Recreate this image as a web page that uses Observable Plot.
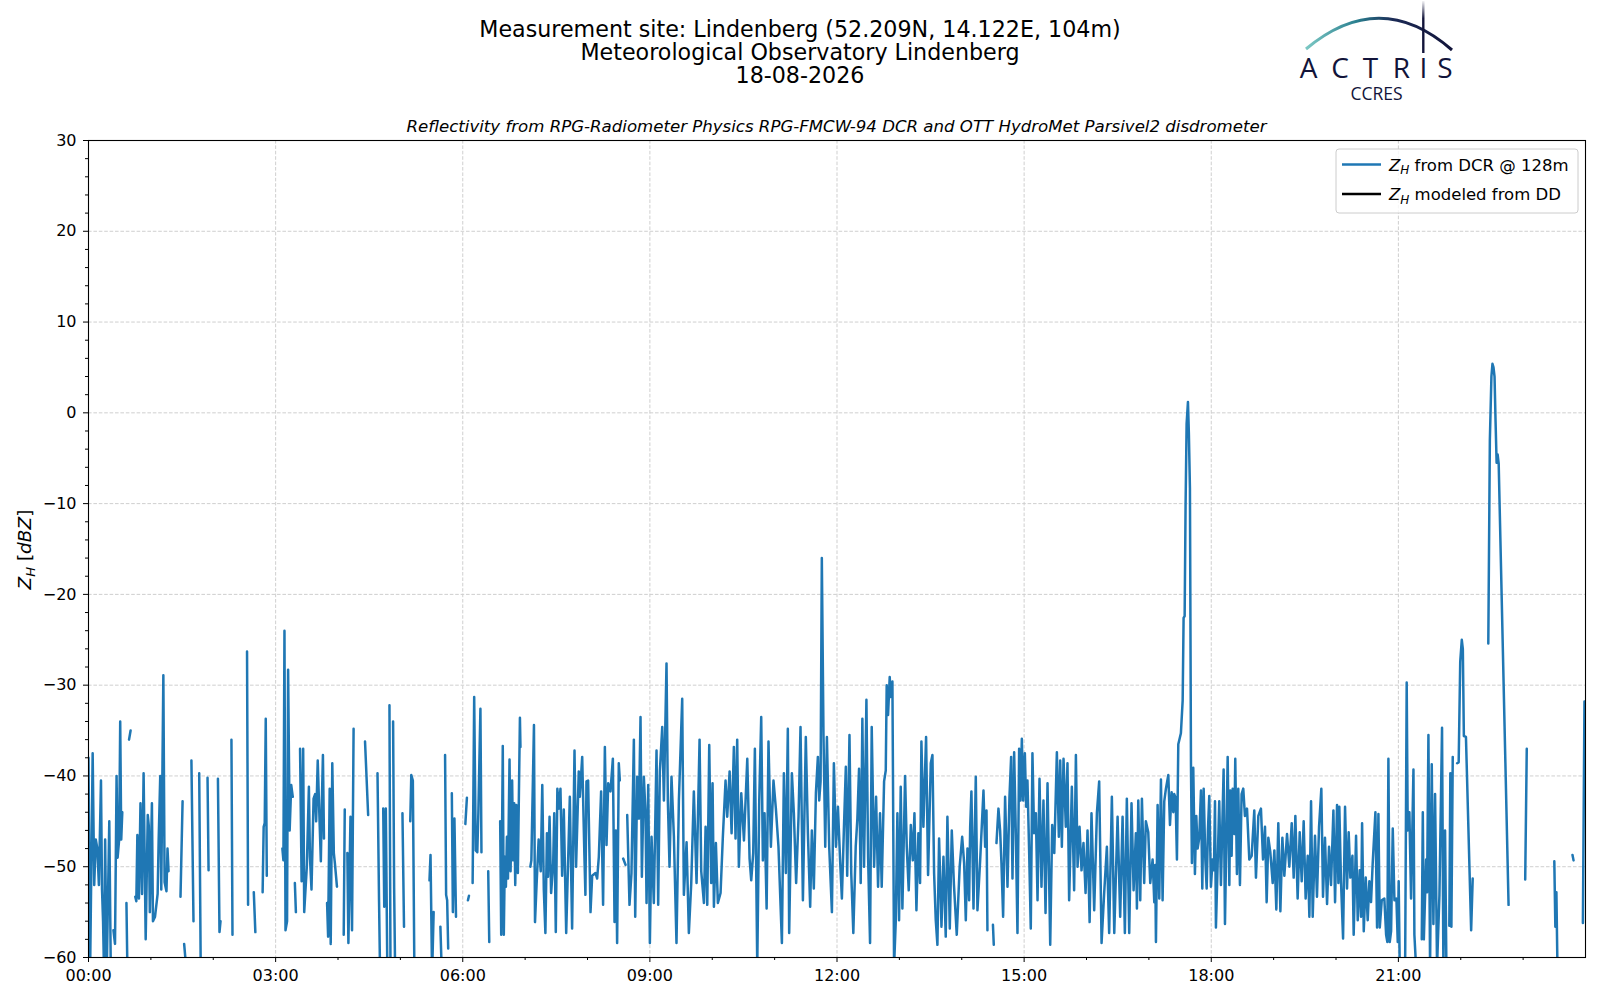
<!DOCTYPE html>
<html><head><meta charset="utf-8">
<script src="https://cdn.jsdelivr.net/npm/d3@7"></script>
<script src="https://cdn.jsdelivr.net/npm/@observablehq/plot@0.6"></script>
<style>
body{margin:0;background:#fff;font-family:"DejaVu Sans",sans-serif;}
#wrap{position:relative;width:1600px;height:1000px;overflow:hidden;background:#fff;}
#chart{position:absolute;left:0;top:0;}
#overlay{position:absolute;left:0;top:0;pointer-events:none;}
</style></head>
<body>
<div id="wrap"><div id="chart"></div>
<svg id="overlay" width="1600" height="1000" font-family="DejaVu Sans, sans-serif">
  <defs>
    <linearGradient id="arcGrad" x1="1306" y1="0" x2="1452" y2="0" gradientUnits="userSpaceOnUse">
      <stop offset="0" stop-color="#7cc8c4"/>
      <stop offset="0.35" stop-color="#2a7f8f"/>
      <stop offset="0.6" stop-color="#1b2a55"/>
      <stop offset="1" stop-color="#12143a"/>
    </linearGradient>
    <linearGradient id="vGrad" x1="0" y1="0" x2="0" y2="53" gradientUnits="userSpaceOnUse">
      <stop offset="0" stop-color="#ffffff"/>
      <stop offset="0.35" stop-color="#12143a"/>
      <stop offset="1" stop-color="#12143a"/>
    </linearGradient>
  </defs>
  <text text-anchor="middle" font-size="22.2"><tspan x="800" y="37">Measurement site: Lindenberg (52.209N, 14.122E, 104m)</tspan><tspan x="800" y="59.5">Meteorological Observatory Lindenberg</tspan><tspan x="800" y="82.5">18-08-2026</tspan></text>
  <text x="836.5" y="132" text-anchor="middle" font-size="16.6" font-style="italic">Reflectivity from RPG-Radiometer Physics RPG-FMCW-94 DCR and OTT HydroMet Parsivel2 disdrometer</text>
  <!-- logo -->
  <path d="M1306,49 Q1380,-13 1452,50" fill="none" stroke="url(#arcGrad)" stroke-width="3"/>
  <path d="M1423.3,1 L1423.3,53" stroke="url(#vGrad)" stroke-width="2.4"/>
  <text font-family="Open Sans, sans-serif" fill="#12143a" text-anchor="middle"><tspan font-size="28" font-weight="500" x="1308.5" y="77.8">A</tspan><tspan font-size="28" font-weight="500" x="1340" y="77.8">C</tspan><tspan font-size="28" font-weight="500" x="1370.5" y="77.8">T</tspan><tspan font-size="28" font-weight="500" x="1401.5" y="77.8">R</tspan><tspan font-size="28" font-weight="500" x="1423.3" y="77.8">I</tspan><tspan font-size="28" font-weight="500" x="1445" y="77.8">S</tspan><tspan font-size="17.5" x="1376.5" y="99.5">CCRES</tspan></text>
  <!-- y label -->
  <text transform="translate(31,549.5) rotate(-90)" text-anchor="middle" font-size="18.5"><tspan font-style="italic">Z</tspan><tspan font-style="italic" font-size="13" dy="4">H</tspan><tspan dy="-4"> [</tspan><tspan font-style="italic">dBZ</tspan><tspan>]</tspan></text>
  <!-- legend -->
  <rect x="1336" y="149" width="242" height="64" rx="3" fill="#fff" fill-opacity="0.8" stroke="#cccccc" stroke-width="1"/>
  <line x1="1342" y1="164.5" x2="1381" y2="164.5" stroke="#1f77b4" stroke-width="2.4"/>
  <line x1="1342" y1="194" x2="1381" y2="194" stroke="#000" stroke-width="2.4"/>
  <text x="1389" y="170.5" font-size="16.5"><tspan font-style="italic">Z</tspan><tspan font-style="italic" font-size="12" dy="3.5">H</tspan><tspan dy="-3.5"> from DCR @ 128m</tspan></text>
  <text x="1389" y="200" font-size="16.5"><tspan font-style="italic">Z</tspan><tspan font-style="italic" font-size="12" dy="3.5">H</tspan><tspan dy="-3.5"> modeled from DD</tspan></text>
</svg>
</div>
<script>
// ---- data: [minute of day, Z_H dBZ]; null marks a gap ----
const h00 = [[0,-38],[1.5,-62],[4,-37.5],[5.5,-52],[7,-47],[8.5,-48],[10,-52],[12,-40.5],[13,-52.5],[14,-56],[15,-62],[16,-47],[17.5,-62],[20,-45],[21.5,-62],[22.5,null],
[24,-57],[25.5,-58.5],[27,-40],[28,-49],[29.5,-47],[30.5,-34],[31.5,-47],[32.5,-44],[33,null],
[36.5,-54],[37.5,-62],[38,null],[39,-36],[40.5,-35],[41,null],
[45,-53.3],[46,-53.8],[47,-46.5],[48.5,-53.5],[50,-43],[51.5,-53],[53,-39.7],[55,-58],[57,-44.3],[58,-45.5],[59,-55],[61,-43],[62,-56],[64,-55.5],[66.5,-53],[67.5,-47],[69,-40],[70,-52.5],[72,-28.9],[73.2,-51.7],[75,-52.7],[76,-48],[77,-50.5],[78,null],
[88.5,-53.3],[90.5,-42.8],[91,null],[92,-58.5],[93.5,-60.5],[94,null],
[99,-38.3],[101,-56],[101.5,null],[106.5,-39.7],[108,-62],[108.5,null],
[114.5,-40.2],[115.5,-50.4],[116,null],[124.5,-40.3],[126,-57.2],[127,-56],[127.5,null],
[137.5,-36],[138.5,-57.5],[139,null],[152.5,-26.3],[153.5,-54.2],[154,null],
[159,-52.8],[160.5,-57.2],[161,null],
[167.5,-52.8],[168.5,-45.6],[169.5,-45.2],[170.5,-33.7],[171.5,-51],[172,null]];

const h03 = [[186.5,-48],[187.5,-49.3],[188.5,-24],[189.5,-57],[191,-56],[192,-28.3],[193.5,-46],[195,-41],[196.5,-42.3],[197,null],
[198.5,-51.8],[199.5,-55],[200,null],
[203.5,-37],[205,-51.6],[206.5,-37],[207.5,-55],[210,-50],[212,-41.2],[213,-48.9],[214.5,-52.5],[216.5,-42.5],[218,-42],[219,-45],[220.5,-38.3],[222,-44],[223.5,-49.4],[224.5,-42.7],[225.5,-37.7],[226.5,-46.9],[227,null],
[229.5,-54],[230.5,-57.7],[232,-41.4],[233,-58.5],[234.5,-38.6],[236,-48.5],[237,-49.6],[239,-52.2],[239.5,null],
[245.5,-57.5],[246.5,-43.7],[247,null],
[249,-48.5],[250,-58.4],[252,-44.5],[253.5,-57],[255,-34.8],[255.5,null],
[266,-36.2],[269,-44.3],[269.5,null],
[278,-39.7],[279.5,-53.9],[280.5,-62],[281,null],
[283.5,-43.6],[284.5,-54.4],[286,-43.6],[287.5,-62],[288,null],
[289.5,-32.2],[290.5,-62],[291,null],
[293,-34],[294,-52.4],[295,-62],[295.5,null],
[302,-44.1],[303.5,-56.6],[304,null],
[309.5,-45],[310.5,-39.9],[312,-40.5],[313.5,-62],[314,null],
[328,-51.5],[329,-48.7],[330.5,-62],[332,-55],[332.5,null],
[338.5,-56.6],[339.5,-60.5],[340,null],
[343,-37.7],[344,-53.1],[345,-53.7],[346,-59],[346.5,null],
[349.5,-41.9],[350.5,-55],[352,-44.7],[353.5,-55.5],[354,null]];

const h06 = [[362.5,-45.3],[364,-42.4],[364.5,null],
[365,-53.7],[366,-53.2],[366.5,null],
[369.5,-51.8],[371,-31.3],[372.5,-48.2],[374,-48.4],[375,-44.1],[377,-32.6],[378,-48.4],[378.5,null],
[384.5,-50.5],[385.5,-58.3],[386,null],
[396,-45],[397,-57.5],[398.5,-36.7],[399.5,-57.5],[400.5,-48.9],[401.5,-52.2],[402.5,-46.7],[403.5,-51.3],[405,-38.2],[406,-50.5],[407.5,-40.5],[408.5,-49.3],[409.5,-43],[410.5,-52],[411.5,-43.2],[413,-50.7],[415,-33.6],[415.5,-36.8],[416,null],
[425,-50],[426,-49.3],[428.5,-34.4],[429.5,-56.1],[431,-52],[433,-47],[435,-50.5],[436.5,-41],[438,-52.6],[439.5,-57.3],[441,-46.3],[442,-51.1],[443.5,-44.5],[445,-52.9],[447,-49.6],[448,-44.1],[449.5,-57.2],[451,-41.4],[452.5,-43.6],
[454,-41.4],[455.6,-51],[457.2,-43.7],[459.5,-57.3],[463,-42.3],[465.2,-56.8],[466.8,-43],[467.5,-37.2],[469,-50],[471.6,-39.5],[472.6,-42.3],[474.9,-37.9],[477,-48.7],[478,-53.1],[479,-40.6],[480.6,-40.5],[482.9,-55],[484.5,-51],[487.7,-50.7],[489.3,-51.3],[490.9,-48.9],[493.1,-41.7],[495,-54.2],[496.7,-36.8],[498.3,-47.6],[499.9,-40.8],[502.1,-41.7],[504.4,-38.1],[506,-56.1],[507.3,-46],[508.5,-58.4],[510.1,-38.6],[511.1,-40.5],[511.5,null],
[514.3,-49.1],[516.6,-49.8],[517,null],
[518.2,-44.3],[520.4,-54.2],[522.3,-50.7],[524.6,-36],[525.9,-55.5],[527.8,-40.1],[529.4,-44.7],[531,-33.5],[532.3,-51.1],[534.2,-40.1],[535.8,-44.1],[536.8,-54],[538.4,-41]];

const h09 = [[540,-58.4],[541.6,-46.7],[543.8,-54],[546.4,-37.2],[548,-54.2],[549.6,-39.5],[551.9,-34.6],[553.5,-42.7],[556,-27.6],[557.3,-42.8],[558.9,-50],[560.8,-40.1],[563.1,-46.7],[565.6,-58.4],[567.9,-42.7],[571.1,-31.5],[572.7,-53.1],[575.3,-47.3],[577.5,-57.3],[579.8,-51.8],[582.3,-41.7],[584.9,-51.8],[587.8,-36],[589.4,-50.5],[592,-54],[593.6,-45.6],[595.2,-54.2],[597.1,-36.6],[599,-51.8],[600.3,-40.8],[601.6,-54.4],[603.5,-47.4],[605.4,-54],[608,-52.9],[610.2,-46.7],[612.8,-40.5],[614.4,-44.5],[616.7,-39.5],[618.6,-46.3],[620.8,-36.8],[622.4,-46.9],[624,-36],[625.6,-50],[627.9,-41.9],[630.5,-47.1],[633.7,-38.1],[635.9,-49.1],[637.5,-51.5],[639.4,-48.5],[641,-37],[643.3,-61],[645.2,-42.7],[647.1,-33.5],[648.7,-49.3],[650.3,-44.1],[652.3,-54.6],[654.1,-36.2],[656.4,-47.8],[658.9,-40.5],[661.2,-43.6],[663.7,-47.8],[667,-58.4],[668.9,-39.7],[670.8,-50.7],[672.7,-34.8],[674,-57.3],[676.6,-39.7],[678.5,-44.1],[680.7,-51.8],[683,-44.5],[684.9,-34.6],[687.2,-53.7],[690,-35.7],[692,-46.3],[694.2,-54.4],[695.8,-46],[697.7,-52.4],[699.7,-41.9],[701.6,-37.9],[702.9,-42.7],[704.2,-40.6],[705.4,-16],[707,-35.5],[708.7,-47.8],[710.3,-35.7],[712.5,-47.8],[715.1,-55],[717,-38.6],[719,-47.8]];

const h12 = [[720.9,-43.4],[723.1,-49.6],[724.7,-53.5],[726.6,-46],[728.5,-39],[729.8,-51],[732,-35.5],[733.7,-50.7],[735.7,-57.3],[738,-47.8],[739.6,-44.7],[741.2,-39.2],[742.8,-51.8],[744.4,-33.7],[746,-50],[748.3,-31.6],[749.9,-48.9],[751.8,-58.4],[753.4,-34.6],[755.7,-50],[757.6,-42.3],[759.5,-52.2],[761.4,-44.1],[763,-52.2],[765.3,-40.6],[766.9,-39.4],[767.8,-30],[769.1,-33.3],[770.7,-29.1],[771.7,-31.3],[773.3,-29.6],[774.9,-61],[776.5,-56.1],[778.1,-44.1],[779.7,-55.9],[781.3,-41.2],[782.9,-54.6],[785.5,-40],[787.1,-47.8],[789,-52.6],[791,-45.4],[792.9,-49.3],[794.5,-44.1],[796.4,-54.8],[798.3,-46.3],[799.9,-51.8],[801.2,-36.2],[803.1,-45.6],[805.7,-35.7],[807.6,-50.9],[810.2,-38.6],[811.8,-37.7],[813.4,-50.7],[815,-55.9],[816.6,-58.6],[818.2,-46.9],[820.5,-56.6],[822.4,-48.9],[824.6,-57.7],[826.2,-44.5],[828.5,-56.8],[830.4,-46],[832.5,-52],[835.2,-57.5],[838,-50],[840.4,-46.7],[842.3,-49.6],[843.9,-55.9],[845.5,-48],[847.1,-53.7],[848.1,-45.6],[849.3,-41.7],[851.3,-54.6],[853.5,-40.1],[855.1,-54.8],[857.7,-49.3],[860.9,-41.6],[862.5,-47.8],[863.8,-43.8],[864.7,-57],[865.2,null],
[870,-56.4],[870.8,-58.6],[871.2,null],
[873.4,-47.4],[875.3,-43.6],[876.9,-46],[878.2,-49.6],[879.8,-55.5],[881.7,-42.3],[884,-52.2],[885.9,-42.3],[887.5,-37.9],[888.8,-51.3],[890.4,-37.4],[892,-46.3],[893.6,-57.3],[895.2,-37],[896.5,-42.7],[897.8,-35.9],[899.1,-42.7]];

const h15 = [[900.7,-37.5],[902,-43.4],[903.2,-40.5],[904.8,-48.2],[906.4,-56.8],[908,-37.5],[909.6,-46.3],[911.3,-44.1],[912.9,-53.7],[914.8,-40.3],[916.7,-52.2],[918.6,-42.7],[920.6,-55.1],[922.5,-40.8],[925.1,-58.6],[927,-45.4],[929,-48.5],[931.5,-37.4],[933.4,-46.7],[934.7,-38.3],[936.3,-47.8],[937.9,-38.1],[940.1,-45.6],[941.7,-38.6],[943.3,-53.7],[945.9,-41.2],[948.1,-52.6],[949.8,-37.7],[951.4,-50],[953.3,-45.6],[955.2,-50.4],[957.1,-47.4],[959.1,-52.9],[961,-46],[963,-56.1],[964.8,-44.1],[967.4,-54.8],[970,-44.1],[972.2,-40.6],[974.5,-58.4],[977,-52.9],[979.6,-47.8],[981.8,-57.3],[984.4,-42.3],[986.7,-57.3],[989.9,-44.5],[992.4,-55.5],[994.7,-44.5],[996.9,-57.3],[998.8,-42.5],[1001.1,-57.3],[1003.3,-43],[1005.3,-52.6],[1007.5,-46.3],[1008.5,-54.6],[1009.8,-42.7],[1011.7,-53.7],[1013.3,-42.5],[1015.5,-51.8],[1017.1,-45],[1019.4,-46.2],[1021.3,-51.8],[1023.6,-49.2],[1025.2,-53.9],[1026.1,-49.8],[1026.8,-58.3],[1028.4,-43.2],[1030,-53.5],[1031.6,-40.4],[1033.2,-53.7],[1034.8,-42.8],[1036.4,-41.4],[1038.7,-39.9],[1040.3,-45.4],[1041.9,-41.8],[1043.5,-44],[1044.4,-42],[1045.7,-42.4],[1047,-49.2],[1048.3,-36.5],[1050.8,-35.3],[1052.5,-31.7],[1053.4,-22.6],[1054.4,-22.4],[1055.3,-10.3],[1056.3,-1.2],[1057.6,1.2],[1058.5,-2.4],[1059.5,-8.3],[1060.5,-38.9],[1061.4,-49.6],[1062.7,-39.1],[1064.3,-50.8],[1065.6,-44.4],[1066.9,-48],[1068.5,-46.8],[1070.1,-41.6],[1071.4,-52.4],[1072.7,-41.4],[1074.3,-49.2],[1075.6,-52.4],[1076.8,-46],[1078.1,-42.2],[1079.7,-52.2]];

const h18 = [[1081.3,-49.2],[1082.6,-50.4],[1083.6,-42.8],[1084.5,-56.7],[1086.1,-50],[1087.7,-42.8],[1089.3,-52],[1091.9,-39.3],[1093.2,-56.3],[1095.8,-37.9],[1097.4,-52],[1098.3,-41.6],[1099.6,-48.8],[1100.6,-41.4],[1102.2,-46.4],[1103.1,-38.1],[1104.7,-50.8],[1106,-41.4],[1107.6,-52],[1109.2,-42],[1110.8,-41.4],[1112.4,-44.4],[1114.4,-43.6],[1116.6,-49.2],[1118.9,-48.8],[1121.4,-43.8],[1123,-51.2],[1125.3,-44.4],[1127.8,-43.6],[1129.8,-49.2],[1131.7,-45.6],[1133.3,-53.9],[1134.9,-46.8],[1136.8,-48.4],[1139.1,-51.8],[1140.7,-48.2],[1142.6,-54.7],[1144.5,-45.2],[1146.5,-54.9],[1148.4,-46.8],[1150.3,-51],[1152.9,-46.4],[1155.1,-50],[1157.4,-45.2],[1159.3,-51.2],[1160.9,-44.4],[1163.1,-53.5],[1165.1,-46.2],[1167,-51.6],[1168.9,-45],[1170.8,-53.5],[1172.8,-48.8],[1174.4,-55.5],[1176,-42.8],[1177.6,-55.5],[1179.8,-46.6],[1181.7,-53.3],[1183.7,-45.6],[1185.9,-41.4],[1187.5,-53.3],[1189.4,-46.8],[1191.4,-54.1],[1193.3,-47.8],[1195.2,-52],[1197.5,-43.8],[1199.1,-53.9],[1201,-43.2],[1202.3,-51.8],[1203.2,-43.4],[1204.8,-51.6],[1206.8,-57.9],[1208.7,-43.4],[1210.6,-52.4],[1212.2,-46.2],[1213.8,-51.2],[1215.8,-48.8],[1217,-57.5],[1219.3,-46.6],[1220.9,-55.9],[1222.8,-50.4],[1224.1,-55.5],[1225.1,-45.2],[1226.7,-57.1],[1228.6,-51.2],[1230.5,-55.9],[1232.1,-51.6],[1233.7,-53.9],[1235.3,-49.6],[1237.9,-44],[1239.5,-56.7],[1240.8,-44.2],[1242.1,-56.7],[1244,-53.7],[1246.5,-53.5],[1248.2,-57.5],[1249.4,-58.3],[1250.4,-38.1],[1251.7,-58.3],[1253,-57.1],[1254.6,-45.8],[1256.2,-53.7],[1258.1,-53.5],[1259.4,-58.3]];

const h21 = [[1260.3,-51.6],[1261.3,-61],[1261.8,null],
[1266.5,-61],[1268,-29.7],[1269,-46],[1270.6,-44],[1272.2,-53.5],[1274.5,-39.3],[1275.4,-57.5],[1277,-61],[1277.5,null],
[1282.5,-58],[1283.5,-44],[1284.5,-58],[1286.7,-49.2],[1287.6,-52.8],[1288.9,-35.5],[1290.5,-61],[1292.1,-38.7],[1293.7,-56.3],[1295.3,-42],[1297.2,-61],[1299.5,-53.1],[1302,-34.7],[1303.3,-61],[1304.9,-46],[1306.2,-61],[1306.7,null],
[1309,-56.5],[1310,-39.7],[1311,-56.6],[1312.3,-37.9],[1312.8,null],
[1316.5,-38.6],[1318,-38.5],[1319.5,-27.4],[1321,-25],[1322,-26],[1323,-35.6],[1325,-35.7],[1330,-57],[1331.5,-51.3],[1332,null],
[1346.5,-25.4],[1348,-3],[1349.5,4],[1350.5,5.4],[1351.5,5],[1352.5,4],[1353.5,-1],[1354.5,-5.5],[1355.5,-4.6],[1356.5,-5.6],[1366,-54.2],[1366.5,null],
[1382,-51.4],[1383.5,-37],[1384,null],
[1410,-49.4],[1411,-56.6],[1412,-52.8],[1413,-61],[1413.5,null],
[1427.5,-48.7],[1428.5,-49.3],[1429,null],
[1437.5,-56.2],[1439,-31.8]];

const xMajorTicks = [0,180,360,540,720,900,1080,1260];
const xMajorLabels = ["00:00","03:00","06:00","09:00","12:00","15:00","18:00","21:00"];
const xMinorTicks = [60,120,240,300,420,480,600,660,780,840,960,1020,1140,1200,1320,1380];
const yMajorTicks = [-60,-50,-40,-30,-20,-10,0,10,20,30];
const yMinorTicks = [-58,-56,-54,-52,-48,-46,-44,-42,-38,-36,-34,-32,-28,-26,-24,-22,-18,-16,-14,-12,-8,-6,-4,-2,2,4,6,8,12,14,16,18,22,24,26,28];

const series = [...h00, ...h03, ...h06, ...h09, ...h12, ...h15, ...h18, ...h21].map(([t, v]) => ({t, v}));
const minus = d => d < 0 ? "\u2212" + (-d) : String(d);
const gridStyle = {stroke: "#cfcfcf", strokeOpacity: 1, strokeWidth: 1, strokeDasharray: "3.6,1.8"};

const chart = Plot.plot({
  width: 1600, height: 1000,
  marginTop: 140, marginRight: 15, marginBottom: 43, marginLeft: 88,
  style: {fontFamily: "DejaVu Sans, sans-serif", fontSize: "16px", color: "#000", background: "transparent", overflow: "visible"},
  x: {domain: [0, 1440], label: null},
  y: {domain: [-60, 30], label: null},
  marks: [
    Plot.gridX(xMajorTicks, gridStyle),
    Plot.gridY(yMajorTicks, gridStyle),
    Plot.line(series, {x: "t", y: "v", stroke: "#1f77b4", strokeWidth: 2.5, clip: true, strokeLinejoin: "round"}),
    Plot.axisX(xMinorTicks, {tickSize: 3, tickFormat: () => "", stroke: "#000"}),
    Plot.axisX(xMajorTicks, {tickSize: 5, tickPadding: 7, stroke: "#000", fill: "#000", tickFormat: d => xMajorLabels[xMajorTicks.indexOf(d)]}),
    Plot.axisY(yMinorTicks, {tickSize: 3, tickFormat: () => "", stroke: "#000"}),
    Plot.axisY(yMajorTicks, {tickSize: 5, tickPadding: 7, stroke: "#000", fill: "#000", tickFormat: minus}),
    Plot.frame({stroke: "#000", strokeWidth: 1.1})
  ]
});
document.getElementById("chart").appendChild(chart);
</script>
</body></html>
